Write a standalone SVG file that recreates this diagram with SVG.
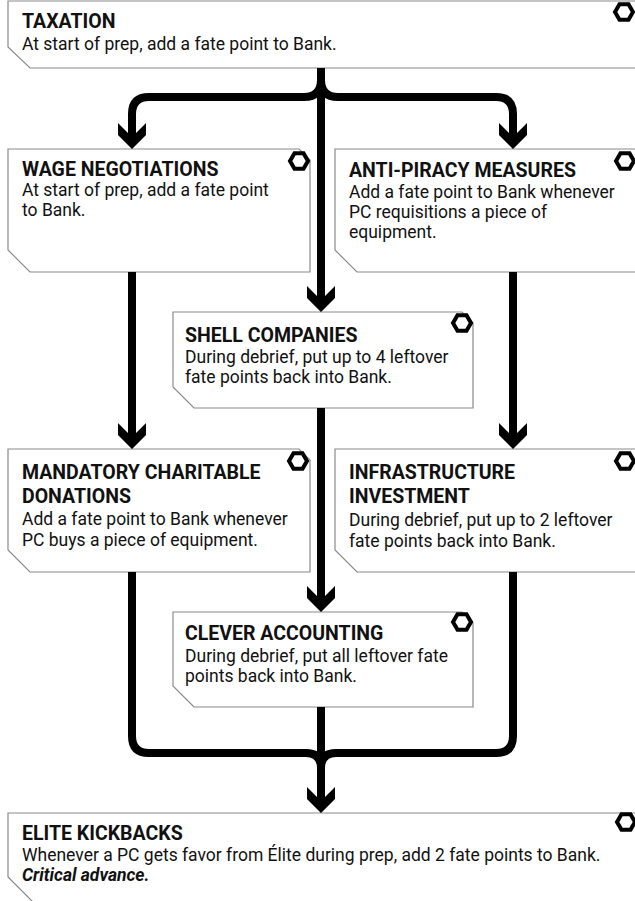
<svg xmlns="http://www.w3.org/2000/svg" width="635" height="901" viewBox="0 0 635 901">
<style>
.box{fill:#fff;stroke:#8a8a8a;stroke-width:1.2}
.hex{fill:#fff;stroke:#000;stroke-width:4;stroke-linejoin:miter}
.t{font-family:Roboto,"Liberation Sans",sans-serif;font-weight:bold;font-size:19.5px;fill:#111}
.b{font-family:Roboto,"Liberation Sans",sans-serif;font-size:17.5px;fill:#111}
.bi{font-family:Roboto,"Liberation Sans",sans-serif;font-size:17.5px;font-weight:bold;font-style:italic;fill:#111}
.c{fill:none;stroke:#000;stroke-width:8}
</style>
<defs>
<path id="hx" class="hex" d="M-9,0 L-4.5,-7.8 L4.5,-7.8 L9,0 L4.5,7.8 L-4.5,7.8 Z"/>
<polygon id="ah" points="0,0 -14,-14 -14,-26 -4,-16 4,-16 14,-26 14,-14" fill="#000"/>
</defs>
<rect width="635" height="901" fill="#fff"/>

<g id="taxation">
<path class="box" d="M8,1 H645 V68 H30 L8,47 Z"/>
<use href="#hx" x="624" y="12"/>
<text class="t" x="22" y="28">TAXATION</text>
<text class="b" x="22" y="50">At start of prep, add a fate point to Bank.</text>
</g>

<g id="wage">
<path class="box" d="M8,149 H299 L310,160 V272 H30 L8,250 Z"/>
<use href="#hx" x="299" y="161"/>
<text class="t" x="22" y="176">WAGE NEGOTIATIONS</text>
<text class="b" x="22" y="196">At start of prep, add a fate point</text>
<text class="b" x="22" y="216">to Bank.</text>
</g>

<g id="antipiracy">
<path class="box" d="M335,149 H645 V272 H357 L335,250 Z"/>
<use href="#hx" x="625" y="161"/>
<text class="t" x="349" y="177">ANTI-PIRACY MEASURES</text>
<text class="b" x="349" y="198">Add a fate point to Bank whenever</text>
<text class="b" x="349" y="218">PC requisitions a piece of</text>
<text class="b" x="349" y="238">equipment.</text>
</g>

<g id="shell">
<path class="box" d="M173,312 H462 L473,323 V408 H194 L173,387 Z"/>
<use href="#hx" x="462" y="323"/>
<text class="t" x="185" y="342">SHELL COMPANIES</text>
<text class="b" x="185" y="363">During debrief, put up to 4 leftover</text>
<text class="b" x="185" y="383">fate points back into Bank.</text>
</g>

<g id="mandatory">
<path class="box" d="M8,449 H299 L310,460 V572 H30 L8,550 Z"/>
<use href="#hx" x="298" y="461"/>
<text class="t" x="22" y="479">MANDATORY CHARITABLE</text>
<text class="t" x="22" y="503">DONATIONS</text>
<text class="b" x="22" y="525">Add a fate point to Bank whenever</text>
<text class="b" x="22" y="546">PC buys a piece of equipment.</text>
</g>

<g id="infrastructure">
<path class="box" d="M335,449 H645 V572 H357 L335,550 Z"/>
<use href="#hx" x="625" y="461"/>
<text class="t" x="349" y="479">INFRASTRUCTURE</text>
<text class="t" x="349" y="503">INVESTMENT</text>
<text class="b" x="349" y="526">During debrief, put up to 2 leftover</text>
<text class="b" x="349" y="547">fate points back into Bank.</text>
</g>

<g id="clever">
<path class="box" d="M173,612 H462 L473,623 V707 H194 L173,686 Z"/>
<use href="#hx" x="462" y="622"/>
<text class="t" x="185" y="640">CLEVER ACCOUNTING</text>
<text class="b" x="185" y="662">During debrief, put all leftover fate</text>
<text class="b" x="185" y="682">points back into Bank.</text>
</g>

<g id="elite">
<path class="box" d="M8,813 H645 V925 H56 L8,877 Z"/>
<use href="#hx" x="626" y="822"/>
<text class="t" x="22" y="840">ELITE KICKBACKS</text>
<text class="b" x="22" y="861">Whenever a PC gets favor from Élite during prep, add 2 fate points to Bank.</text>
<text class="bi" x="22" y="881">Critical advance.</text>
</g>

<g id="connectors">
<path class="c" d="M321,68 V300"/>
<path class="c" d="M321,80 Q321,97 304,97 H149 Q132,97 132,114 V136"/>
<path class="c" d="M321,80 Q321,97 338,97 H496 Q513,97 513,114 V136"/>
<path class="c" d="M132,272 V436"/>
<path class="c" d="M513,272 V436"/>
<path class="c" d="M321,408 V599"/>
<path class="c" d="M132,572 V736 Q132,753 149,753 H306 Q321,753 321,768"/>
<path class="c" d="M513,572 V736 Q513,753 496,753 H336 Q321,753 321,768"/>
<path class="c" d="M321,707 V800"/>
<use href="#ah" x="132" y="149"/>
<use href="#ah" x="513" y="149"/>
<use href="#ah" x="321" y="312"/>
<use href="#ah" x="132" y="449"/>
<use href="#ah" x="513" y="449"/>
<use href="#ah" x="321" y="612"/>
<use href="#ah" x="321" y="813"/>
</g>
</svg>
